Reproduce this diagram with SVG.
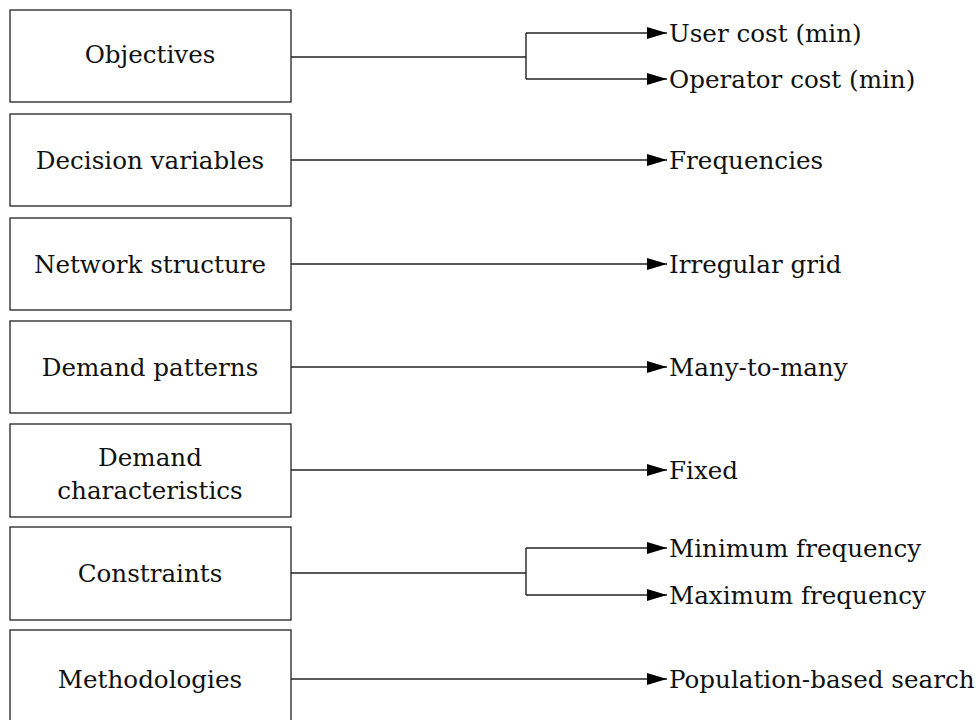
<svg xmlns="http://www.w3.org/2000/svg" width="980" height="720" viewBox="0 0 980 720">
<style>
.box{fill:#fff;stroke:#222;stroke-width:1.3}
.t{font-family:"DejaVu Serif","Liberation Serif",serif;font-size:24.6px;fill:#111}
.c{text-anchor:middle}
.ln{fill:none;stroke:#222;stroke-width:1.4}
</style>
<defs>
<marker id="ah" viewBox="0 0 20 12" refX="20" refY="6" markerWidth="20" markerHeight="12" markerUnits="userSpaceOnUse" orient="auto">
<path d="M0,0 L20,6 L0,12 z" fill="#000"/>
</marker>
</defs>
<rect width="980" height="720" fill="#fff"/>
<g id="objectives"><rect class="box" x="10" y="10" width="281" height="92"/><text class="t c" x="150" y="63">Objectives</text></g>
<g id="decision"><rect class="box" x="10" y="114" width="281" height="92"/><text class="t c" x="150" y="169">Decision variables</text></g>
<g id="network"><rect class="box" x="10" y="218" width="281" height="92"/><text class="t c" x="150" y="273">Network structure</text></g>
<g id="patterns"><rect class="box" x="10" y="321" width="281" height="92"/><text class="t c" x="150" y="376">Demand patterns</text></g>
<g id="characteristics"><rect class="box" x="10" y="424" width="281" height="93"/><text class="t c" x="150" y="466">Demand</text><text class="t c" x="150" y="499">characteristics</text></g>
<g id="constraints"><rect class="box" x="10" y="527" width="281" height="93"/><text class="t c" x="150" y="582">Constraints</text></g>
<g id="methodologies"><rect class="box" x="10" y="630" width="281" height="100"/><text class="t c" x="150" y="688">Methodologies</text></g>
<g id="connectors">
<path class="ln" d="M291,57 H526 M526,33 V79"/>
<path class="ln" d="M526,33 H667" marker-end="url(#ah)"/>
<path class="ln" d="M526,79 H667" marker-end="url(#ah)"/>
<path class="ln" d="M291,160 H667" marker-end="url(#ah)"/>
<path class="ln" d="M291,264 H667" marker-end="url(#ah)"/>
<path class="ln" d="M291,367 H667" marker-end="url(#ah)"/>
<path class="ln" d="M291,470 H667" marker-end="url(#ah)"/>
<path class="ln" d="M291,573 H526 M526,548 V595"/>
<path class="ln" d="M526,548 H667" marker-end="url(#ah)"/>
<path class="ln" d="M526,595 H667" marker-end="url(#ah)"/>
<path class="ln" d="M291,679 H667" marker-end="url(#ah)"/>
</g>
<g id="labels">
<text class="t" x="669" y="42">User cost (min)</text>
<text class="t" x="669" y="88">Operator cost (min)</text>
<text class="t" x="669" y="169">Frequencies</text>
<text class="t" x="669" y="273">Irregular grid</text>
<text class="t" x="669" y="376">Many-to-many</text>
<text class="t" x="669" y="479">Fixed</text>
<text class="t" x="669" y="557">Minimum frequency</text>
<text class="t" x="669" y="604">Maximum frequency</text>
<text class="t" x="669" y="688">Population-based search</text>
</g>
</svg>
